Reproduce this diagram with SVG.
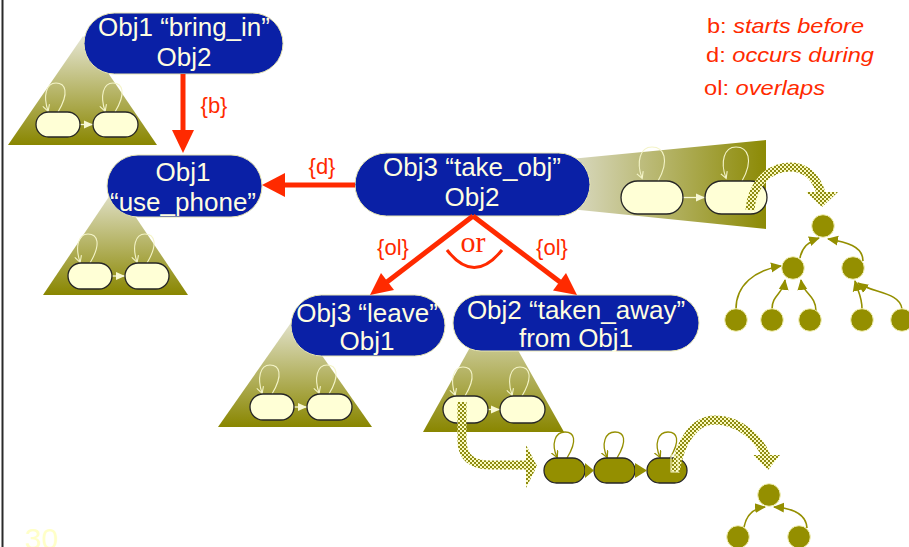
<svg xmlns="http://www.w3.org/2000/svg" width="909" height="547" viewBox="0 0 909 547">
<defs>
  <linearGradient id="gv" x1="0" y1="0" x2="0" y2="1">
    <stop offset="0" stop-color="#e6e6d4"/>
    <stop offset="1" stop-color="#898600"/>
  </linearGradient>
  <linearGradient id="gh" x1="0" y1="0" x2="1" y2="0">
    <stop offset="0" stop-color="#dedecc"/>
    <stop offset="1" stop-color="#8c8a05"/>
  </linearGradient>
  <pattern id="chk" width="4" height="4" patternUnits="userSpaceOnUse">
    <rect width="4" height="4" fill="#fbfbc0"/>
    <rect width="2" height="2" fill="#8e8b10"/>
    <rect x="2" y="2" width="2" height="2" fill="#8e8b10"/>
  </pattern>
  <marker id="openHead" markerWidth="8" markerHeight="8" refX="6" refY="4" orient="auto" markerUnits="userSpaceOnUse">
    <path d="M0,0.5 L6.5,4 L0,7.5" fill="none" stroke="#f4f4c8" stroke-width="1.1"/>
  </marker>
  <marker id="openHeadO" markerWidth="8" markerHeight="8" refX="6" refY="4" orient="auto" markerUnits="userSpaceOnUse">
    <path d="M0,0.5 L6.5,4 L0,7.5" fill="none" stroke="#948f00" stroke-width="1.3"/>
  </marker>
  <marker id="lightHead" markerWidth="10" markerHeight="10" refX="9" refY="5" orient="auto" markerUnits="userSpaceOnUse">
    <path d="M0,1 L9,5 L0,9 Z" fill="#f8f8d4"/>
  </marker>
  <marker id="oliveHead" markerWidth="12" markerHeight="12" refX="10" refY="6" orient="auto" markerUnits="userSpaceOnUse">
    <path d="M0,1 L11,6 L0,11 Z" fill="#948f00"/>
  </marker>
  <style>
    .node rect { fill: #0a20a6; stroke: #e8e6b0; stroke-width: 1; }
    .node text { font-family: "Liberation Sans", Arial, sans-serif; font-size: 26px; fill: #fffde0; text-anchor: middle; }
    .tri { fill: url(#gv); }
    .pill { fill: #ffffd6; stroke: #262626; stroke-width: 1.3; }
    .opill { fill: #948f00; stroke: #262626; stroke-width: 1.3; }
    .loop { fill: none; stroke: #f4f4c8; stroke-width: 1.1; marker-end: url(#openHead); }
    .oloop { fill: none; stroke: #948f00; stroke-width: 1.3; marker-end: url(#openHeadO); }
    .link { stroke: #f8f8d4; stroke-width: 1.3; marker-end: url(#lightHead); }
    .red { stroke: #ff2a00; stroke-width: 5; fill: none; }
    .redhead { fill: #ff2a00; }
    .lbl { font-family: "Liberation Sans", Arial, sans-serif; font-size: 22px; fill: #ff2a00; text-anchor: middle; }
    .leg { font-family: "Liberation Sans", Arial, sans-serif; font-size: 21px; fill: #ff2a00; }
    .band { fill: none; stroke: url(#chk); stroke-width: 9; }
    .bandhead { fill: url(#chk); }
    .tnode { fill: #948f00; stroke: #f4f2b8; stroke-width: 1; }
    .tedge { fill: none; stroke: #948f00; stroke-width: 1.6; marker-end: url(#oliveHead); }
  </style>
</defs>

<rect width="909" height="547" fill="#ffffff"/>
<line x1="2.5" y1="0" x2="2.5" y2="547" stroke="#2a2a2a" stroke-width="2"/>

<!-- state trees (triangles) -->
<g id="tree-bring_in">
  <polygon class="tri" points="83,36 157,145 8,145"/>
  <path class="loop" d="M58,112 C70,92 65,83 56,83 C46,83 43,96 48,111"/>
  <path class="loop" d="M115,112 C127,92 122,83 113,83 C103,83 100,96 105,111"/>
  <line class="link" x1="80" y1="124.5" x2="93" y2="124.5"/>
  <rect class="pill" x="36" y="112" width="44" height="25" rx="12.5"/>
  <rect class="pill" x="93" y="112" width="45" height="25" rx="12.5"/>
</g>
<g id="tree-use_phone">
  <polygon class="tri" points="115.5,187 188,295 43,295"/>
  <path class="loop" d="M90,263 C102,243 97,234 88,234 C78,234 75,247 80,262"/>
  <path class="loop" d="M147,263 C159,243 154,234 145,234 C135,234 132,247 137,262"/>
  <line class="link" x1="112" y1="276" x2="125" y2="276"/>
  <rect class="pill" x="68" y="263" width="44" height="26" rx="13"/>
  <rect class="pill" x="125" y="263" width="44" height="26" rx="13"/>
</g>
<g id="tree-take_obj">
  <polygon fill="url(#gh)" points="560,160 766,140 766,229 560,208"/>
  <path class="loop" d="M658,181 C670,160 664,147 652,147 C640,147 636,162 642,178"/>
  <path class="loop" d="M742,181 C754,160 748,147 736,147 C724,147 720,162 726,178"/>
  <line class="link" x1="683" y1="197.5" x2="705" y2="197.5"/>
  <rect class="pill" x="621" y="181" width="62" height="33" rx="16.5"/>
  <rect class="pill" x="705" y="181" width="62" height="33" rx="16.5"/>
</g>
<g id="tree-leave">
  <polygon class="tri" points="295,317 372,427 218,427"/>
  <path class="loop" d="M272,394 C284,374 279,365 270,365 C260,365 257,378 262,393"/>
  <path class="loop" d="M329,394 C341,374 336,365 327,365 C317,365 314,378 319,393"/>
  <line class="link" x1="294" y1="407" x2="307" y2="407"/>
  <rect class="pill" x="250" y="394" width="44" height="26" rx="13"/>
  <rect class="pill" x="307" y="394" width="45" height="26" rx="13"/>
</g>
<g id="tree-taken_away">
  <polygon class="tri" points="493,306 564,432 423,432"/>
  <path class="loop" d="M465,396 C477,376 472,367 463,367 C453,367 450,380 455,395"/>
  <path class="loop" d="M522,396 C534,376 529,367 520,367 C510,367 507,380 512,395"/>
  <line class="link" x1="488" y1="409.5" x2="500" y2="409.5"/>
  <rect class="pill" x="443" y="396" width="45" height="27" rx="13.5"/>
  <rect class="pill" x="500" y="396" width="45" height="27" rx="13.5"/>
</g>

<!-- expanded state chain -->
<g id="chain">
  <path class="oloop" d="M567,458 C578,440 574,432 565,432 C555,432 551,444 557,457"/>
  <path class="oloop" d="M617,458 C628,440 624,432 615,432 C605,432 601,444 607,457"/>
  <path class="oloop" d="M670,458 C681,440 677,432 668,432 C658,432 654,444 660,457"/>
  <rect class="opill" x="544" y="458" width="41" height="25" rx="12.5"/>
  <rect class="opill" x="594" y="458" width="41" height="25" rx="12.5"/>
  <rect class="opill" x="647" y="458" width="40" height="25" rx="12.5"/>
  <polygon fill="#948f00" points="585,463 594,470.5 585,478"/>
  <polygon fill="#948f00" points="635,463 647,470.5 635,478"/>
</g>

<!-- trees of circles -->
<g id="circletree-1">
  <path class="tedge" d="M736,309 C736,285 755,270 781,266"/>
  <path class="tedge" d="M772,309 C772,295 783,294 785,280"/>
  <path class="tedge" d="M816,311 C816,295 803,294 801,280"/>
  <path class="tedge" d="M800,258 C802,246 810,241 819,238"/>
  <path class="tedge" d="M863,261 C863,246 846,242 828,239"/>
  <path class="tedge" d="M862,309 C862,296 858,292 855,281"/>
  <path class="tedge" d="M902,309 C900,292 872,293 858,283"/>
  <circle class="tnode" cx="823" cy="226" r="11.3"/>
  <circle class="tnode" cx="793" cy="268" r="11.3"/>
  <circle class="tnode" cx="853" cy="268" r="11.3"/>
  <circle class="tnode" cx="736" cy="320" r="11.3"/>
  <circle class="tnode" cx="772" cy="320" r="11.3"/>
  <circle class="tnode" cx="810" cy="320" r="11.3"/>
  <circle class="tnode" cx="862" cy="320" r="11.3"/>
  <circle class="tnode" cx="902" cy="320" r="11.3"/>
</g>
<g id="circletree-2">
  <path class="tedge" d="M744,527 C747,512 756,508 765,507"/>
  <path class="tedge" d="M807,528 C806,512 790,508 774,507"/>
  <circle class="tnode" cx="769" cy="495" r="11.3"/>
  <circle class="tnode" cx="738" cy="537" r="11.3"/>
  <circle class="tnode" cx="799" cy="537" r="11.3"/>
</g>

<!-- checkered expansion arrows -->
<g id="expansions">
  <path class="band" d="M750,210 C752,185 768,167 790,167 C808,167 817,180 821,193"/>
  <polygon class="bandhead" points="806,192 838,192 822,207"/>
  <path class="band" d="M462,402 L462,440 Q462,465 490,465 L527,465"/>
  <polygon class="bandhead" points="526,445 537,466 526,488"/>
  <path class="band" d="M675,472 C680,440 695,420 715,420 C740,420 760,440 766,456"/>
  <polygon class="bandhead" points="753,455 780,455 768,470"/>
  <rect x="671" y="455" width="7" height="17" fill="none" stroke="#f8f8d0" stroke-width="1"/>
</g>

<!-- nodes -->
<g id="node-bring_in" class="node">
  <rect x="84" y="13" width="199" height="61" rx="30.5"/>
  <text x="184" y="36">Obj1 “bring_in”</text>
  <text x="184" y="66">Obj2</text>
</g>
<g id="node-use_phone" class="node">
  <rect x="107" y="155" width="155" height="62" rx="31"/>
  <text x="183" y="181">Obj1</text>
  <text x="183" y="211">“use_phone”</text>
</g>
<g id="node-take_obj" class="node">
  <rect x="355" y="153" width="235" height="63" rx="31.5"/>
  <text x="472" y="176">Obj3 “take_obj”</text>
  <text x="472" y="206">Obj2</text>
</g>
<g id="node-leave" class="node">
  <rect x="291" y="295" width="154" height="61" rx="30.5"/>
  <text x="367" y="322">Obj3 “leave”</text>
  <text x="367" y="350">Obj1</text>
</g>
<g id="node-taken_away" class="node">
  <rect x="453" y="295" width="246" height="56" rx="28"/>
  <text x="576" y="319">Obj2 “taken_away”</text>
  <text x="576" y="347">from Obj1</text>
</g>

<!-- relation connectors -->
<g id="connectors">
  <line class="red" x1="183" y1="74" x2="183" y2="132"/>
  <polygon class="redhead" points="172,130 194,130 183,153"/>
  <text class="lbl" x="214" y="113">{b}</text>

  <line class="red" x1="355" y1="185" x2="283" y2="185"/>
  <polygon class="redhead" points="285,173 285,197 262,185"/>
  <text class="lbl" x="322" y="174">{d}</text>

  <line class="red" x1="473" y1="216" x2="387" y2="282"/>
  <polygon class="redhead" points="394,290 381,273 370,295"/>
  <line class="red" x1="473" y1="216" x2="560" y2="282"/>
  <polygon class="redhead" points="553,290.5 566,273 577,295"/>
  <text class="lbl" x="393" y="255">{ol}</text>
  <text class="lbl" x="552" y="255">{ol}</text>
  <text x="473" y="252" font-family="Liberation Serif, 'Times New Roman', serif" font-size="30" fill="#ff2a00" text-anchor="middle">or</text>
  <path d="M447,250 Q474,285 502,250" fill="none" stroke="#ff2a00" stroke-width="3"/>
</g>

<!-- legend -->
<g id="legend">
  <text class="leg" x="707" y="33" textLength="157" lengthAdjust="spacingAndGlyphs">b: <tspan font-style="italic">starts before</tspan></text>
  <text class="leg" x="706" y="62" textLength="168" lengthAdjust="spacingAndGlyphs">d: <tspan font-style="italic">occurs during</tspan></text>
  <text class="leg" x="704" y="95" textLength="121" lengthAdjust="spacingAndGlyphs">ol: <tspan font-style="italic">overlaps</tspan></text>
</g>

<text x="25" y="549" font-family="Liberation Sans, Arial, sans-serif" font-size="30" fill="#ffffc8">30</text>
</svg>
